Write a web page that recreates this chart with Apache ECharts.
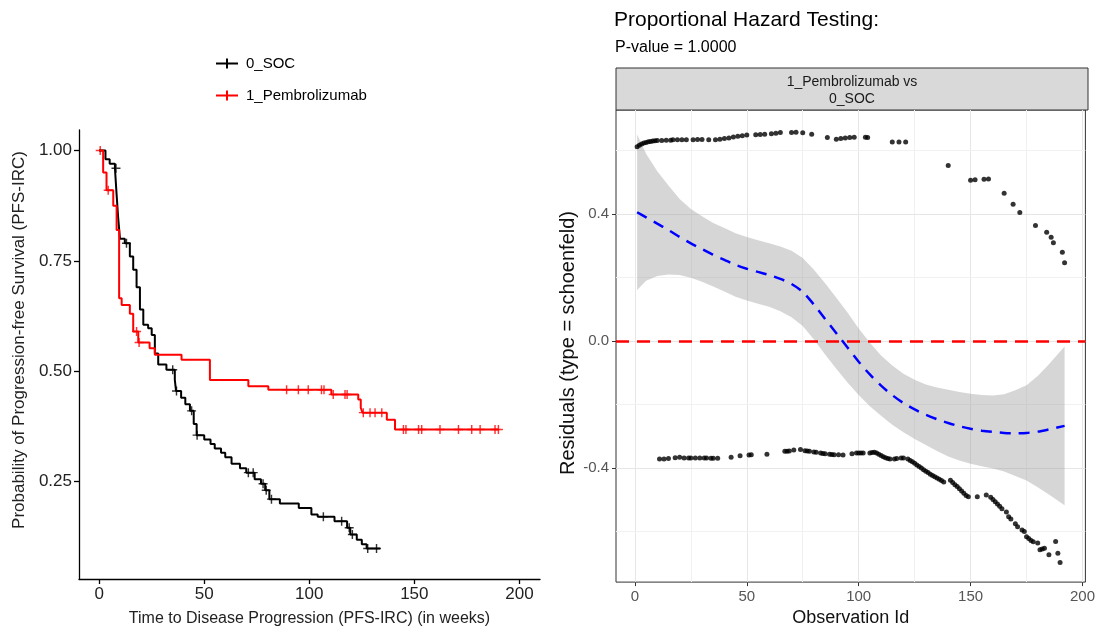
<!DOCTYPE html>
<html lang="en">
<head>
<meta charset="UTF-8">
<title>PFS-IRC survival and proportional hazard testing</title>
<script src="https://cdn.jsdelivr.net/npm/echarts@6.0.0/dist/echarts.min.js"></script>
<style>
  html, body { margin: 0; padding: 0; background: #fff; }
  #chart { width: 1098px; height: 632px; }
</style>
</head>
<body>
<div id="chart"></div>
<script>
var FONT = 'Liberation Sans, Arial, Helvetica, sans-serif';

// Kaplan-Meier steps, time in weeks / survival probability
var socTime = [0, 3, 5, 7.5, 8.3, 9, 9.9, 12.2, 14.6, 16.2, 17.8, 19.4, 21, 23.3, 25, 26.5, 28.1, 32, 36, 36.6,
  39, 41, 43.2, 45, 46.4, 50, 53, 55, 58, 60, 63, 67, 70, 74, 77, 79, 81, 86, 95, 101, 104, 112, 118, 119.5,
  122.6, 125, 127.3, 133.7];
var socSurv = [1, 0.98, 0.97, 0.96, 0.90, 0.85, 0.80, 0.79, 0.76, 0.73, 0.69, 0.64, 0.605, 0.597, 0.582, 0.54, 0.515, 0.503, 0.48, 0.455,
  0.44, 0.425, 0.41, 0.38, 0.355, 0.345, 0.335, 0.325, 0.315, 0.305, 0.29, 0.28, 0.27, 0.255, 0.245, 0.23, 0.21, 0.20, 0.19, 0.175, 0.17, 0.16, 0.145, 0.13,
  0.118, 0.108, 0.098, 0.098];
var socCensorTime = [8, 13, 35, 36.8, 44, 46.6, 71, 73.3, 78, 79.5, 82, 106.7, 115.4, 119, 120.5, 127.8, 132];
var socCensorSurv = [0.96, 0.79, 0.503, 0.455, 0.41, 0.355, 0.27, 0.27, 0.245, 0.23, 0.21, 0.17, 0.16, 0.145, 0.13, 0.098, 0.098];

var pemTime = [0, 1.9, 3.5, 6.7, 8.3, 9.5, 10.7, 14.6, 16.2, 18.6, 24, 26.5, 39.2, 52.7, 71, 80.5, 110.5, 123.3, 124.5, 125.3, 136.9, 140.8, 190];
var pemSurv = [1, 0.95, 0.91, 0.875, 0.82, 0.665, 0.65, 0.63, 0.59, 0.565, 0.552, 0.537, 0.526, 0.48, 0.466, 0.458, 0.447, 0.436, 0.417, 0.406, 0.39, 0.368, 0.368];
var pemCensorTime = [0.5, 4.3, 17.8, 19, 89.2, 94.8, 99.5, 105.8, 107, 111.4, 117, 118, 125.7, 128.9, 131.3, 134.5,
  144.8, 146, 152, 153.5, 162.2, 171, 177.3, 181.3, 188.4, 190];
var pemCensorSurv = [1, 0.91, 0.59, 0.565, 0.458, 0.458, 0.458, 0.458, 0.458, 0.447, 0.447, 0.447, 0.406, 0.406, 0.406, 0.406,
  0.368, 0.368, 0.368, 0.368, 0.368, 0.368, 0.368, 0.368, 0.368, 0.368];

var kmXTicks = [0, 50, 100, 150, 200];
var kmYTicks = [0.25, 0.5, 0.75, 1.0];

// schoenfeld residuals by observation id
var pemObsId = [1, 2, 3, 4, 5, 6, 7, 8, 9, 10, 12, 14, 16, 17, 19, 21, 23, 26, 28, 30, 33, 36, 38, 40, 42, 44, 46, 48, 50,
  54, 56, 58, 61, 63, 65, 70, 72, 75, 79, 86, 90, 92, 94, 96, 98, 103, 104, 115, 118, 121,
  140, 150, 152, 156, 158, 165, 169, 172, 179, 184, 186, 187, 191, 192];
var pemResid = [0.612, 0.617, 0.621, 0.624, 0.626, 0.628, 0.629, 0.630, 0.631, 0.632, 0.632, 0.633, 0.633, 0.634, 0.634, 0.634, 0.634, 0.634, 0.635, 0.635,
  0.634, 0.634, 0.636, 0.638, 0.640, 0.643, 0.645, 0.647, 0.649,
  0.650, 0.651, 0.652, 0.653, 0.655, 0.657, 0.657, 0.658, 0.656, 0.652, 0.641, 0.636, 0.638, 0.640, 0.641, 0.642, 0.642, 0.641, 0.627, 0.627, 0.627,
  0.553, 0.507, 0.508, 0.510, 0.511, 0.466, 0.431, 0.405, 0.364, 0.343, 0.327, 0.310, 0.280, 0.247];
var socObsId = [11, 13, 15, 18, 20, 22, 24, 25, 27, 29, 31, 32, 34, 35, 37, 43, 47, 51, 52, 59,
  67, 68, 69, 71, 74, 76, 77, 78, 80, 81, 83, 84, 85, 87, 88, 89, 91, 93, 97, 99,
  100, 101, 102, 105, 106, 107, 108, 109, 110, 111, 112, 113, 114, 116, 117, 119, 120, 122, 123, 124,
  125, 126, 127, 128, 129, 130, 131, 132, 133, 134, 135, 136, 137, 138, 141, 142, 143, 144, 145, 146,
  147, 148, 149, 153, 157, 159, 160, 161, 162, 163, 164, 166, 167, 168, 170, 171, 173, 174, 175, 176,
  177, 178, 180, 181, 182, 183, 185, 188, 189, 190];
var socResid = [-0.371, -0.371, -0.370, -0.367, -0.366, -0.368, -0.368, -0.368, -0.368, -0.368, -0.368, -0.368, -0.369, -0.369, -0.369, -0.366, -0.361, -0.359, -0.358, -0.356,
  -0.347, -0.347, -0.346, -0.343, -0.341, -0.345, -0.346, -0.347, -0.349, -0.350, -0.352, -0.354, -0.355, -0.356, -0.357, -0.358, -0.358, -0.359, -0.355, -0.352,
  -0.352, -0.352, -0.352, -0.352, -0.351, -0.350, -0.352, -0.356, -0.360, -0.364, -0.367, -0.370, -0.371, -0.371, -0.370, -0.368, -0.368, -0.371, -0.376, -0.380,
  -0.385, -0.390, -0.395, -0.400, -0.405, -0.410, -0.414, -0.419, -0.423, -0.427, -0.431, -0.435, -0.439, -0.444, -0.438, -0.445, -0.452, -0.458, -0.465, -0.472,
  -0.479, -0.486, -0.490, -0.490, -0.485, -0.492, -0.499, -0.506, -0.513, -0.520, -0.528, -0.538, -0.553, -0.560, -0.575, -0.585, -0.595, -0.600, -0.616, -0.622,
  -0.628, -0.632, -0.636, -0.657, -0.655, -0.652, -0.673, -0.631, -0.668, -0.697];

// loess fit and its band
var smoothId = [1, 5, 10, 15, 20, 25, 30, 35, 40, 45, 50, 55, 60, 65, 70, 75, 80, 85, 90, 95, 100, 105, 110, 115, 120,
  125, 130, 135, 140, 145, 150, 155, 160, 165, 170, 175, 180, 185, 192];
var smoothFit = [0.406, 0.39, 0.37, 0.35, 0.328, 0.308, 0.29, 0.272, 0.256, 0.24, 0.228, 0.218, 0.208, 0.196, 0.18, 0.155, 0.115, 0.07, 0.025, -0.02,
  -0.065, -0.105, -0.14, -0.17, -0.195, -0.215, -0.232, -0.246, -0.258, -0.268, -0.276, -0.282, -0.286, -0.289, -0.29, -0.289, -0.285, -0.278, -0.267];
var smoothHigh = [0.651, 0.59, 0.535, 0.49, 0.448, 0.416, 0.393, 0.372, 0.356, 0.34, 0.328, 0.318, 0.308, 0.298, 0.285, 0.262, 0.225, 0.182, 0.137, 0.09,
  0.04, -0.005, -0.045, -0.077, -0.103, -0.122, -0.137, -0.146, -0.153, -0.16, -0.166, -0.17, -0.171, -0.167, -0.155, -0.139, -0.11, -0.073, -0.017];
var smoothLow = [0.161, 0.19, 0.205, 0.21, 0.208, 0.2, 0.187, 0.172, 0.156, 0.14, 0.128, 0.118, 0.108, 0.094, 0.075, 0.048, 0.005, -0.042, -0.087, -0.13,
  -0.17, -0.205, -0.235, -0.263, -0.287, -0.308, -0.327, -0.346, -0.363, -0.376, -0.386, -0.394, -0.401, -0.411, -0.425, -0.439, -0.46, -0.483, -0.517];

var resXTicks = [0, 50, 100, 150, 200];
var resXMinor = [25, 75, 125, 175];
var resYTicks = [-0.4, 0, 0.4];
var resYMinor = [-0.6, -0.2, 0.2, 0.6];

function pairs(xs, ys) {
    var out = [];
    for (var i = 0; i < xs.length; i++) out.push([xs[i], ys[i]]);
    return out;
}

var plusMark = 'path://M-1.6,-10H1.6V-1.6H10V1.6H1.6V10H-1.6V1.6H-10V-1.6H-1.6Z';
var legendMark = 'path://M0,8H44V12H0Z M20,0H24V20H20Z';

var majorLine = { color: '#e6e6e6', width: 1, type: 'solid' };
var minorLine = { color: '#f1f1f1', width: 1, type: 'solid' };
var gridMarks = [];
resXTicks.forEach(function (v) { gridMarks.push({ xAxis: v, lineStyle: majorLine }); });
resXMinor.forEach(function (v) { gridMarks.push({ xAxis: v, lineStyle: minorLine }); });
resYTicks.forEach(function (v) { gridMarks.push({ yAxis: v, lineStyle: majorLine }); });
resYMinor.forEach(function (v) { gridMarks.push({ yAxis: v, lineStyle: minorLine }); });

var chart = echarts.init(document.getElementById('chart'));

var option = {
    animation: false,
    textStyle: { fontFamily: FONT },
    title: [{
        text: 'Proportional Hazard Testing:',
        left: 614, top: 10, padding: 0,
        textStyle: { fontSize: 21, fontWeight: 'normal', color: '#000', fontFamily: FONT }
    }, {
        text: 'P-value = 1.0000',
        left: 615, top: 40, padding: 0,
        textStyle: { fontSize: 16, fontWeight: 'normal', color: '#000', fontFamily: FONT }
    }],
    legend: {
        orient: 'vertical',
        left: 216, top: 56, padding: 0,
        itemWidth: 22, itemHeight: 10, itemGap: 17,
        textStyle: { fontSize: 15, color: '#000', fontFamily: FONT, padding: [0, 0, 0, 3] },
        data: [{ name: '0_SOC', icon: legendMark }, { name: '1_Pembrolizumab', icon: legendMark }],
        selectedMode: false
    },
    grid: [
        { left: 79, top: 130, width: 461, height: 453 },
        { left: 616, top: 110, width: 472, height: 477, show: true, borderColor: '#333', borderWidth: 1, backgroundColor: '#fff' }
    ],
    xAxis: [{
        gridIndex: 0, type: 'value', min: -9.6, max: 209.8,
        axisLine: { show: true, onZero: false, lineStyle: { color: '#000', width: 1.3 } },
        axisTick: { show: true, customValues: kmXTicks, length: 5, lineStyle: { color: '#000', width: 1.3 } },
        axisLabel: { customValues: kmXTicks, fontSize: 17, color: '#222', margin: 7 },
        splitLine: { show: false },
        name: 'Time to Disease Progression (PFS-IRC) (in weeks)',
        nameLocation: 'middle', nameGap: 32,
        nameTextStyle: { fontSize: 16, color: '#222' }
    }, {
        gridIndex: 1, type: 'value', min: -8.44, max: 201.3,
        axisLine: { show: false, onZero: false },
        axisTick: { show: true, customValues: resXTicks, length: 4, lineStyle: { color: '#333' } },
        axisLabel: { customValues: resXTicks, fontSize: 15, color: '#555', margin: 7 },
        splitLine: { show: false },
        name: 'Observation Id',
        nameLocation: 'middle', nameGap: 25,
        nameTextStyle: { fontSize: 18, color: '#111' }
    }],
    yAxis: [{
        gridIndex: 0, type: 'value', min: 0.029, max: 1.0465,
        axisLine: { show: true, onZero: false, lineStyle: { color: '#000', width: 1.3 } },
        axisTick: { show: true, customValues: kmYTicks, length: 5, lineStyle: { color: '#000', width: 1.3 } },
        axisLabel: {
            customValues: kmYTicks, fontSize: 17, color: '#222', margin: 7,
            formatter: function (v) { return v.toFixed(2); }
        },
        splitLine: { show: false }
    }, {
        gridIndex: 1, type: 'value', min: -0.759, max: 0.728,
        axisLine: { show: false, onZero: false },
        axisTick: { show: true, customValues: resYTicks, length: 4, lineStyle: { color: '#333' } },
        axisLabel: {
            customValues: resYTicks, fontSize: 15, color: '#555', margin: 7,
            formatter: function (v) { return v.toFixed(1); }
        },
        splitLine: { show: false }
    }],
    graphic: [{
        type: 'rect',
        shape: { x: 616, y: 68, width: 472, height: 42 },
        style: { fill: '#d9d9d9', stroke: '#333', lineWidth: 1 }
    }, {
        type: 'text', x: 852, y: 90.5,
        style: {
            text: '1_Pembrolizumab vs\n0_SOC', align: 'center', verticalAlign: 'middle',
            fontSize: 14, lineHeight: 16.5, fill: '#1a1a1a', fontFamily: FONT
        }
    }, {
        type: 'text', x: 19, y: 340, rotation: Math.PI / 2,
        style: {
            text: 'Probability of Progression-free Survival (PFS-IRC)', align: 'center', verticalAlign: 'middle',
            fontSize: 17, fill: '#222', fontFamily: FONT
        }
    }, {
        type: 'text', x: 568, y: 343, rotation: Math.PI / 2,
        style: {
            text: 'Residuals (type = schoenfeld)', align: 'center', verticalAlign: 'middle',
            fontSize: 20, fill: '#111', fontFamily: FONT
        }
    }],
    series: [{
        name: '0_SOC', type: 'line', xAxisIndex: 0, yAxisIndex: 0, step: 'end',
        data: pairs(socTime, socSurv), showSymbol: false, silent: true,
        lineStyle: { color: '#000', width: 2 }, itemStyle: { color: '#000' }
    }, {
        name: '1_Pembrolizumab', type: 'line', xAxisIndex: 0, yAxisIndex: 0, step: 'end',
        data: pairs(pemTime, pemSurv), showSymbol: false, silent: true,
        lineStyle: { color: '#f00', width: 2 }, itemStyle: { color: '#f00' }
    }, {
        name: '0_SOC', type: 'scatter', xAxisIndex: 0, yAxisIndex: 0,
        data: pairs(socCensorTime, socCensorSurv), symbol: plusMark, symbolSize: 9, silent: true,
        itemStyle: { color: '#000' }
    }, {
        name: '1_Pembrolizumab', type: 'scatter', xAxisIndex: 0, yAxisIndex: 0,
        data: pairs(pemCensorTime, pemCensorSurv), symbol: plusMark, symbolSize: 9, silent: true,
        itemStyle: { color: '#f00' }
    }, {
        name: 'gridlines', type: 'line', xAxisIndex: 1, yAxisIndex: 1, data: [], z: 1,
        markLine: {
            silent: true, symbol: ['none', 'none'], label: { show: false }, z: 1,
            animation: false, data: gridMarks
        }
    }, {
        name: 'band', type: 'custom', xAxisIndex: 1, yAxisIndex: 1, z: 2, silent: true,
        data: [[smoothId[0], smoothFit[0]]],
        renderItem: function (params, api) {
            var pts = [];
            for (var i = 0; i < smoothId.length; i++) pts.push(api.coord([smoothId[i], smoothHigh[i]]));
            for (var j = smoothId.length - 1; j >= 0; j--) pts.push(api.coord([smoothId[j], smoothLow[j]]));
            return { type: 'polygon', shape: { points: pts }, style: { fill: 'rgba(153,153,153,0.4)' } };
        }
    }, {
        name: 'resid pem', type: 'scatter', xAxisIndex: 1, yAxisIndex: 1, z: 3, silent: true,
        data: pairs(pemObsId, pemResid), symbolSize: 5, itemStyle: { color: '#000' }
    }, {
        name: 'resid soc', type: 'scatter', xAxisIndex: 1, yAxisIndex: 1, z: 3, silent: true,
        data: pairs(socObsId, socResid), symbolSize: 5, itemStyle: { color: '#000' }
    }, {
        name: 'fit', type: 'line', xAxisIndex: 1, yAxisIndex: 1, z: 4, silent: true,
        data: pairs(smoothId, smoothFit), smooth: 0.3, showSymbol: false,
        lineStyle: { color: '#00f', width: 2.5, type: [11, 8] }
    }, {
        name: 'zero', type: 'line', xAxisIndex: 1, yAxisIndex: 1, data: [], z: 5,
        markLine: {
            silent: true, symbol: ['none', 'none'], label: { show: false }, z: 5, animation: false,
            data: [{ yAxis: 0 }],
            lineStyle: { color: '#f00', width: 2.5, type: [13, 8] }
        }
    }]
};

chart.setOption(option);
</script>
</body>
</html>
